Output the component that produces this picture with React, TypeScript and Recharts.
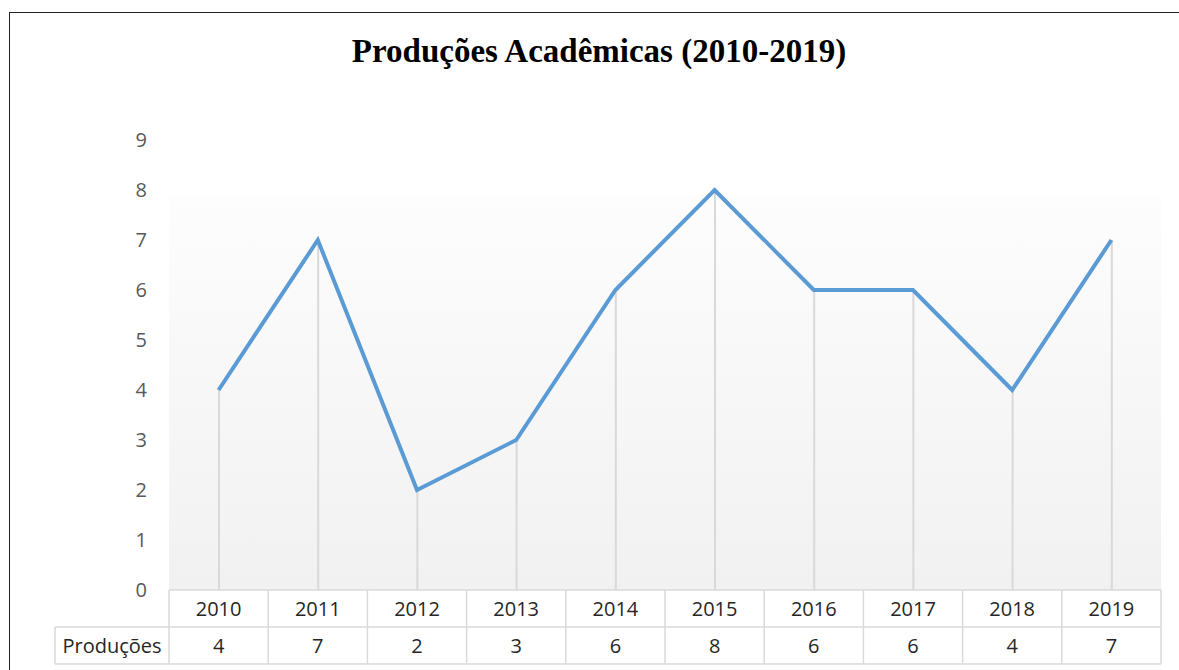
import { ComposedChart, Line, Bar, XAxis, YAxis, CartesianGrid } from 'recharts';

const years = ['2010', '2011', '2012', '2013', '2014', '2015', '2016', '2017', '2018', '2019'];
const producoes = [4, 7, 2, 3, 6, 8, 6, 6, 4, 7];
const yTicks = [0, 1, 2, 3, 4, 5, 6, 7, 8, 9];
const seriesName = 'Produções';

const data = years.map((year, i) => ({ year, value: producoes[i] }));

const W = 1179;
const H = 670;
const PLOT_LEFT = 169;
const PLOT_RIGHT = 1161;
const CELL_W = (PLOT_RIGHT - PLOT_LEFT) / years.length;
const ROW_H = 37;
const LABEL_W = 114;
const FONT = '"Open Sans", "Noto Sans", sans-serif';
const BORDER = '#d9d9d9';

const TableTick = (props: any) => {
  const { x, y, payload, index } = props;
  const left = x - CELL_W / 2;
  const right = x + CELL_W / 2;
  const val = producoes[index];
  return (
    <g>
      {index === 0 && (
        <>
          <line x1={left - LABEL_W} y1={y + ROW_H} x2={left} y2={y + ROW_H} stroke={BORDER} strokeWidth={1.5} />
          <line x1={left - LABEL_W} y1={y + ROW_H * 2} x2={left} y2={y + ROW_H * 2} stroke={BORDER} strokeWidth={1.5} />
          <line x1={left - LABEL_W} y1={y + ROW_H} x2={left - LABEL_W} y2={y + ROW_H * 2} stroke={BORDER} strokeWidth={1.5} />
          <line x1={left} y1={y} x2={left} y2={y + ROW_H * 2} stroke={BORDER} strokeWidth={1.5} />
          <text x={left - LABEL_W / 2} y={y + ROW_H * 1.5} textAnchor="middle" dominantBaseline="central"
            fontFamily={FONT} fontSize={20} fill="#262626">{seriesName}</text>
        </>
      )}
      <line x1={left} y1={y + ROW_H} x2={right} y2={y + ROW_H} stroke={BORDER} strokeWidth={1.5} />
      <line x1={left} y1={y + ROW_H * 2} x2={right} y2={y + ROW_H * 2} stroke={BORDER} strokeWidth={1.5} />
      <line x1={right} y1={y} x2={right} y2={y + ROW_H * 2} stroke={BORDER} strokeWidth={1.5} />
      <text x={x} y={y + ROW_H / 2} textAnchor="middle" dominantBaseline="central"
        fontFamily={FONT} fontSize={20} fill="#262626">{payload.value}</text>
      <text x={x} y={y + ROW_H * 1.5} textAnchor="middle" dominantBaseline="central"
        fontFamily={FONT} fontSize={20} fill="#262626">{val}</text>
    </g>
  );
};

export default function App() {
  return (
    <div style={{ position: 'fixed', left: 0, top: 0, width: W, height: H, overflow: 'hidden', background: '#fff' }}>
      <div style={{
        position: 'absolute', left: 9, top: 12, width: W + 20, height: H + 20,
        borderLeft: '1px solid #222', borderTop: '1px solid #222', boxSizing: 'border-box'
      }} />
      <div style={{
        position: 'absolute', left: 0, top: 35, width: 1198, textAlign: 'center',
        fontFamily: '"Liberation Serif", "Times New Roman", serif', fontWeight: 'bold',
        fontSize: 33, lineHeight: '33px', color: '#000'
      }}>
        Produções Acadêmicas (2010-2019)
      </div>
      <div style={{ position: 'absolute', left: 0, top: 0 }}>
        <ComposedChart width={W} height={H} data={data}
          margin={{ top: 140, right: W - PLOT_RIGHT, bottom: 50, left: PLOT_LEFT - 60 }}>
          <defs>
            <linearGradient id="plotBg" x1="0" y1="0" x2="0" y2="1">
              <stop offset="0" stopColor="#ffffff" />
              <stop offset="0.121" stopColor="#ffffff" />
              <stop offset="0.122" stopColor="#fdfdfd" />
              <stop offset="1" stopColor="#f1f1f1" />
            </linearGradient>
          </defs>
          <CartesianGrid horizontal={false} vertical={false} fill="url(#plotBg)" stroke="none" />
          <XAxis dataKey="year" height={30} axisLine={{ stroke: BORDER, strokeWidth: 1.5 }} tickLine={false}
            tickSize={0} tickMargin={0} tick={<TableTick />} interval={0} />
          <YAxis width={60} domain={[0, 9]} ticks={yTicks} axisLine={false} tickLine={false}
            tickMargin={16} tick={{ fill: '#595959', fontSize: 20, fontFamily: FONT }} />
          <Bar dataKey="value" barSize={2} fill="#d9d9d9" isAnimationActive={false} />
          <Line type="linear" dataKey="value" stroke="#5b9bd5" strokeWidth={4} dot={false}
            activeDot={false} isAnimationActive={false} />
        </ComposedChart>
      </div>
    </div>
  );
}
